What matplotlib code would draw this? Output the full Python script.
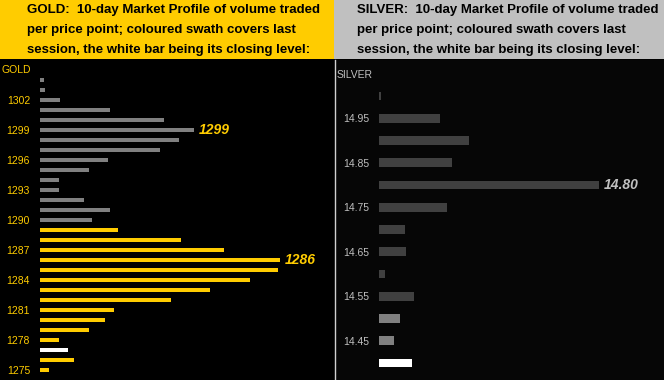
import matplotlib
matplotlib.use("Agg")
import matplotlib.pyplot as plt
from matplotlib.patches import Rectangle
from matplotlib.lines import Line2D

# ---- data ----
gold_levels = list(range(1304, 1274, -1))
gold_volume = [4, 5, 20, 70, 124, 154, 139, 120, 68, 49,
               19, 19, 44, 70, 52, 78, 141, 184, 240, 238,
               210, 170, 131, 74, 65, 49, 19, 28, 34, 9]
gold_session = [1289, 1288, 1287, 1286, 1285, 1284, 1283, 1282,
                1281, 1280, 1279, 1278, 1277, 1276, 1275]
gold_close = 1277
gold_marked = [1299, 1286]
gold_ticks = list(range(1302, 1274, -3))

silver_levels = [15.00, 14.95, 14.90, 14.85, 14.80, 14.75, 14.70,
                 14.65, 14.60, 14.55, 14.50, 14.45, 14.40]
silver_volume = [2, 61, 90, 73, 220, 68, 26, 27, 6, 35, 21, 15, 33]
silver_session = [14.50, 14.45, 14.40]
silver_close = 14.40
silver_marked = [14.80]
silver_ticks = [14.95, 14.85, 14.75, 14.65, 14.55, 14.45]

gold_title = ["GOLD:  10-day Market Profile of volume traded",
              "per price point; coloured swath covers last",
              "session, the white bar being its closing level:"]
silver_title = ["SILVER:  10-day Market Profile of volume traded",
                "per price point; coloured swath covers last",
                "session, the white bar being its closing level:"]

W, H = 664, 380
YEL = "#FFCC00"
SIL = "#C0C0C0"
plt.rcParams["font.family"] = ["Liberation Sans", "DejaVu Sans"]

fig = plt.figure(figsize=(W / 100, H / 100), dpi=100)
fig.patch.set_facecolor("black")


def frac(x, y):
    return x / W, 1 - y / H


def rect(x0, y0, x1, y1, color):
    fig.add_artist(Rectangle(frac(x0, y1), (x1 - x0) / W, (y1 - y0) / H,
                             transform=fig.transFigure, color=color, lw=0,
                             zorder=-10))


# headers and panel backgrounds
rect(0, 0, 334, 59, YEL)
rect(334, 0, W, 59, SIL)
rect(335, 60, W, H, "#060606")
fig.add_artist(Line2D([334.5 / W] * 2, [0, 1 - 60 / H],
                      transform=fig.transFigure, color="#D0D0D0", lw=1,
                      zorder=-5))
for i in range(3):
    fig.text(*frac(27, 10 + 20 * i), gold_title[i], fontsize=9.5,
             fontweight="bold", color="black", va="center", ha="left")
    fig.text(*frac(357, 10 + 20 * i), silver_title[i], fontsize=9.5,
             fontweight="bold", color="black", va="center", ha="left")


def panel(x0, x1, ylim, levels, vols, session, close, base, sess_col,
          bar_h, ticks, fmt, txt_col, marked, mark_col, name, name_y):
    ax = fig.add_axes([x0 / W, 0, (x1 - x0) / W, (H - 60) / H])
    ax.set_facecolor("none")
    colors = []
    for lv in levels:
        if lv == close:
            colors.append("white")
        elif lv in session:
            colors.append(sess_col)
        else:
            colors.append(base)
    ax.barh(levels, vols, height=bar_h, color=colors, lw=0)
    ax.set_xlim(0, x1 - x0)
    ax.set_ylim(*ylim)
    ax.set_yticks(ticks)
    ax.set_yticklabels([fmt.format(t) for t in ticks], fontsize=7.5,
                       color=txt_col)
    ax.tick_params(axis="y", length=0, pad=7.2)
    ax.set_xticks([])
    for s in ax.spines.values():
        s.set_visible(False)
    for lv, v in zip(levels, vols):
        if lv in marked:
            ax.annotate(fmt.format(lv), (v, lv), xytext=(3.6, 0),
                        textcoords="offset points", va="center",
                        fontsize=10, fontweight="bold", style="italic",
                        color=mark_col)
    ax.text(-0.0, name_y, name, fontsize=7.5, color=txt_col,
            va="center", ha="left",
            transform=ax.get_yaxis_transform())
    return ax


ax1 = panel(40, 334, (1274, 1306), gold_levels, gold_volume, gold_session,
            gold_close, "#808080", YEL, 0.4, gold_ticks, "{:.0f}", YEL,
            gold_marked, YEL, "GOLD", 1305)
ax1.texts[-1].set_x(-38)
ax1.texts[-1].set_transform(ax1.transData)
ax2 = panel(379, 664, (14.3618, 15.0809), silver_levels, silver_volume,
            silver_session, silver_close, "#404040", "#808080", 0.0202,
            silver_ticks, "{:.2f}", SIL, silver_marked, SIL, "SILVER",
            15.0809 - 15 / 22.25 * 0.05)
ax2.texts[-1].set_x(-42)
ax2.texts[-1].set_transform(ax2.transData)

fig.savefig("out.png", dpi=100, facecolor="black")
